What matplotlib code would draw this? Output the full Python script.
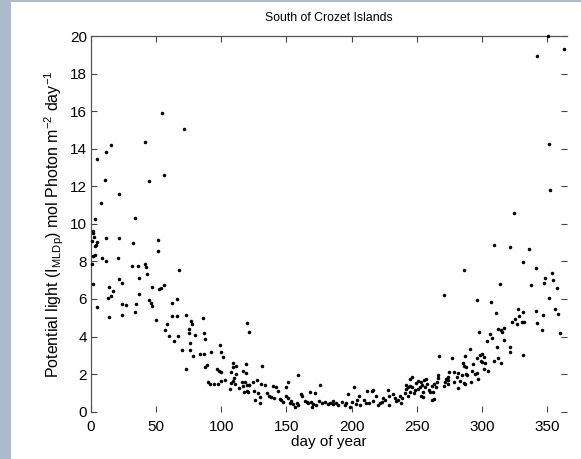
import matplotlib
matplotlib.use("Agg")
import matplotlib.pyplot as plt
from matplotlib.patches import Rectangle

plt.rcParams['font.family'] = ['Liberation Sans', 'DejaVu Sans']
plt.rcParams['mathtext.fontset'] = 'custom'
plt.rcParams['mathtext.rm'] = 'Liberation Sans'
plt.rcParams['mathtext.it'] = 'Liberation Sans'

title = "South of Crozet Islands"
xlabel = "day of year"
ylabel = r"Potential light (I$_{MLDp}$) mol Photon m$^{-2}$ day$^{-1}$"
xticks = [0, 50, 100, 150, 200, 250, 300, 350]
yticks = [0, 2, 4, 6, 8, 10, 12, 14, 16, 18, 20]

# early season (days 0-125)
days_a = [54.5, 71.6, 41.7, 15.6, 11.8, 4.6, 56, 10.5, 44.5, 21.5, 7.4, 2.8, 33.8,
          1.3, 2.3, 4.4, 3.6, 3.3, 13.6,
          1.5, 1.0, 2.8, 11.8, 21.7, 32.5, 51.7, 51.7, 1.8, 0.8, 8.7, 11.8, 20.5, 31.7,
          35.8, 41.7, 42.4, 42.7, 36.6, 67.5, 21.7, 23.8, 1.8, 46.8, 52.2, 53.7, 56,
          16.9, 15.6, 12.8, 36.6, 66, 44.5, 46.1, 46.8, 61.9, 34.8, 23.8, 27.1, 4.8,
          34, 13.8, 23.8, 61.9, 66, 72.7, 49.9, 76.5, 77.8, 85.7, 58.1, 56.8, 75.5,
          75.5, 79.6, 87, 87.7, 59.9, 66.5, 63.7, 76.3, 119.5, 121.5, 99, 70.1, 75.8,
          100, 78.5, 83.8, 86.6, 91.9, 101.6, 88.7, 87.3, 73.2, 108.8, 111.5, 118.7,
          108.8, 96.7, 98, 100, 107.7, 116.9, 118.7, 111.5, 109.8, 89.8, 91.3, 94.2,
          97.5, 100, 102.6, 107.2, 110.3, 109.3, 115.9, 118, 119.5, 121.5, 116.9,
          113.8, 107, 117.2, 119.5, 120.8]
vals_a = [15.9, 15.04, 14.38, 14.22, 13.83, 13.47, 12.62, 12.32, 12.28, 11.61, 11.13, 10.26, 10.30,
          9.64, 9.32, 9.05, 8.86, 8.34, 6.62,
          9.53, 9.11, 8.82, 9.25, 9.23, 8.98, 9.14, 8.56, 8.27, 7.85, 8.17, 8.01, 8.17, 7.74,
          7.77, 7.85, 7.72, 7.35, 7.10, 7.56, 7.08, 6.85, 6.82, 6.66, 6.53, 6.57, 6.73,
          6.41, 6.14, 6.07, 6.28, 6.0, 5.95, 5.80, 5.61, 5.77, 5.75, 5.72, 5.70, 5.56,
          5.32, 5.04, 5.13, 5.11, 5.10, 5.15, 4.87, 4.83, 4.69, 4.97, 4.65, 4.37, 4.39,
          4.17, 4.10, 4.19, 3.87, 4.05, 4.05, 3.75, 3.68, 4.72, 4.26, 3.55, 3.30, 3.29,
          3.16, 2.97, 3.06, 3.09, 3.16, 2.90, 2.51, 2.40, 2.26, 2.59, 2.45, 2.54,
          2.38, 2.29, 2.17, 2.11, 2.11, 2.18, 2.06, 2.01, 1.81, 1.57, 1.49, 1.46,
          1.49, 1.62, 1.67, 1.53, 1.49, 1.63, 1.58, 1.60, 1.44, 1.44, 1.37,
          1.25, 1.19, 1.03, 1.10, 1.05]

# mid season (days 120-242)
days_b = [131.5, 158.6, 127.4, 121.3, 133.6, 139.7, 141.8, 151.5, 149.5, 176.1, 201.9,
          125.4, 128.4, 129.7, 125.9, 129.5, 135.1, 136.9, 138.2, 140.7, 143.8, 144.8,
          147.6, 149.7, 151.5, 152.8, 155.3, 157.9, 156.6, 159.1, 161.2, 162.2, 164.3,
          165.8, 166.8, 168.9, 170.4, 168.3, 171.9, 169.4, 177.1, 179.6, 181.7, 183.5,
          185.5, 187.8, 189.8, 192.4, 194.9, 197, 199, 200.6, 203.4, 205.7, 206.5,
          209.3, 211.6, 213.4, 215.5, 216.5, 218.8, 220.6, 223.1, 224.4, 227.8, 229,
          231.8, 233.4, 235.9, 237.2, 239, 241, 229, 216.7, 130.7, 124.1,
          145.5, 153.5, 172.5, 175, 186, 196, 204, 211, 222, 226, 234, 238]
vals_b = [2.45, 1.94, 1.67, 1.41, 1.41, 1.38, 1.33, 1.60, 1.30, 1.42, 1.33,
          1.10, 0.98, 0.80, 0.62, 0.48, 0.98, 0.85, 0.80, 0.75, 1.09, 0.68,
          0.53, 0.85, 0.73, 0.45, 0.41, 0.48, 0.27, 0.36, 0.94, 0.85, 0.59,
          0.53, 0.45, 0.52, 0.39, 1.03, 0.98, 0.27, 0.45, 0.53, 0.41, 0.48,
          0.39, 0.45, 0.36, 0.53, 0.36, 0.94, 0.27, 0.52, 0.43, 0.85, 0.34,
          0.62, 1.12, 0.48, 1.09, 0.59, 0.85, 0.36, 0.53, 0.71, 1.16, 0.85,
          0.94, 0.75, 0.62, 0.85, 0.71, 0.98, 0.36, 1.14, 1.47, 1.60,
          0.60, 0.55, 0.35, 0.55, 0.55, 0.45, 0.60, 0.45, 0.45, 0.60, 0.55, 0.45]

# late season (days 240-365)
days_c = [309.6, 321.9, 336, 331.8, 341.6, 286.6, 353.9, 348.8, 354.9, 347.7, 338, 314,
          358, 270.7, 296.5, 306.8, 351.6, 327.8, 331.6, 341.6, 346.7, 356.4, 358.7,
          310.7, 328.8, 325.7, 322.9, 327, 330.6, 332.4, 342.6, 345.9, 360, 312.7, 315,
          316.8, 315.8, 297.9, 306.6, 307.6, 304, 316.8, 311.7, 321.9, 321.9, 331.6,
          290.7, 266.9, 276.9, 286.8, 296.5, 298.6, 299.9, 301.4, 299.6, 300.4, 302.7,
          309.1, 312.7, 315, 285.8, 286.6, 287.6, 293, 301.9, 304.7, 292.5, 294.8,
          296.1, 287.9, 285, 288.9, 296.8, 291.9, 287.3, 275, 278.9, 281.5, 281,
          283.3, 286.1, 278.9, 274.3, 272.3, 274.3, 271.8, 273.8, 271.2, 266.1, 266.6,
          281.5, 265.6, 263.5, 264.6, 261.5, 259.5, 262.5, 260.2, 257.4, 255.4, 253.3,
          251.2, 249.2, 246.2, 244.6, 257.9, 256.4, 254.3, 252.3, 250.8, 248.7, 246.6,
          244.9, 243.1, 242.1, 254.9, 247.7, 244.6, 243.6, 253.3, 261.5, 263.5, 254.9,
          241.8,
          350.8, 362.9, 342.6, 351.6, 352.6, 324.5]
vals_c = [8.86, 8.77, 8.66, 7.97, 7.67, 7.53, 7.37, 7.10, 7.00, 6.87, 6.75, 6.80,
          6.59, 6.23, 5.95, 5.84, 6.04, 5.45, 5.31, 5.35, 5.15, 5.49, 5.20,
          5.24, 5.10, 4.92, 4.79, 4.65, 4.78, 4.78, 4.74, 4.33, 4.17, 4.40, 4.37,
          4.46, 4.23, 4.23, 4.14, 3.92, 3.78, 3.80, 3.43, 3.45, 3.16, 3.00,
          3.34, 2.98, 2.88, 2.98, 2.88, 3.04, 3.06, 2.91, 2.70, 2.63, 2.58,
          2.68, 2.88, 2.59, 2.58, 2.45, 2.38, 2.54, 2.27, 2.18, 2.17, 2.02,
          2.04, 1.99, 1.97, 1.94, 1.72, 1.60, 1.48, 2.11, 2.10, 2.08, 1.83,
          1.65, 1.55, 1.57, 1.87, 1.74, 1.69, 1.57, 1.48, 1.39, 1.94, 1.79,
          1.25, 1.58, 1.48, 1.33, 1.39, 1.16, 1.07, 1.03, 1.76, 1.69, 1.60,
          1.65, 1.55, 1.86, 1.72, 1.48, 1.33, 1.42, 1.33, 1.21, 1.16, 1.30,
          1.38, 1.33, 1.19, 1.03, 0.98, 1.07, 0.85, 0.84, 0.62, 0.68, 0.80,
          1.44,
          20.0, 19.33, 18.94, 14.25, 11.8, 10.6]

days = days_a + days_b + days_c
vals = vals_a + vals_b + vals_c

fig = plt.figure(figsize=(5.81, 4.59), dpi=100)
fig.patch.set_facecolor('#aebbcb')
bg = Rectangle((11/581, 0), 1 - 11/581, 1 - 2/459, transform=fig.transFigure,
               facecolor='white', edgecolor='none', zorder=-10)
fig.add_artist(bg)
ax = fig.add_axes([91/581, 1 - 411.7/459, (566.5 - 91)/581, (411.7 - 36)/459])
ax.set_zorder(1)
ax.set_facecolor('none')
ax.scatter(days, vals, s=6.5, c='black', marker='o', linewidths=0, zorder=3, clip_on=False)
ax.set_xlim(0, 365)
ax.set_ylim(0, 20)
ax.set_xticks(xticks)
ax.set_yticks(yticks)
ax.tick_params(direction='in', length=4, width=0.8, color='#444444',
               top=True, right=True, labelsize=11, pad=3)
ax.tick_params(axis='x', pad=6)
for side in ['left', 'top']:
    ax.spines[side].set_color('#555555')
    ax.spines[side].set_linewidth(0.9)
for side in ['bottom', 'right']:
    ax.spines[side].set_visible(False)
ax.set_title(title, fontsize=8.8, pad=11)
ax.set_xlabel(xlabel, fontsize=11, labelpad=1)
ax.set_ylabel(ylabel, fontsize=11.5, labelpad=3)
fig.savefig("out.png", dpi=100)
